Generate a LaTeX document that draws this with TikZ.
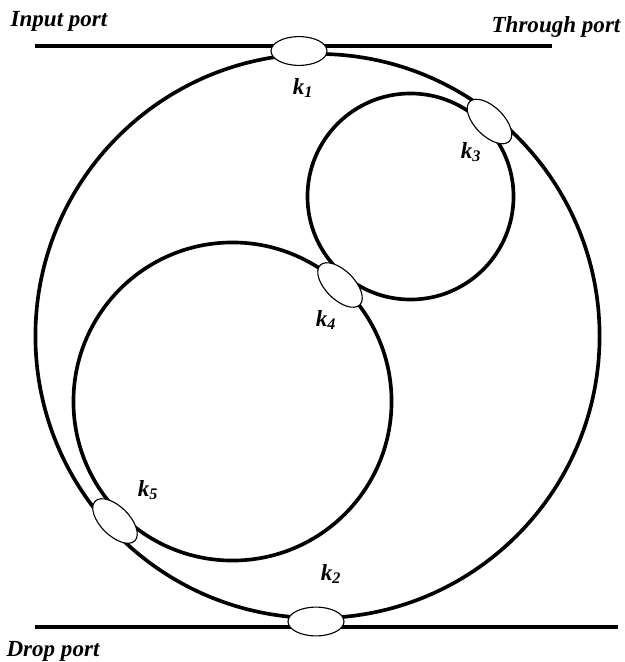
\documentclass[tikz,border=0pt]{standalone}
\usepackage{fontspec}
\setmainfont{Liberation Serif}
\usetikzlibrary{shapes.geometric}
\tikzset{
	ring/.style={draw, circle, line width=2.6pt, inner sep=0pt},
	bus/.style={line width=2.6pt},
	coupler/.style={draw, ellipse, fill=white, line width=0.8pt, minimum width=1.4cm, minimum height=0.72cm, inner sep=0pt},
	portlabel/.style={font=\fontsize{16.4}{18}\selectfont\bfseries\itshape, inner sep=0pt},
	klabel/.style={font=\fontsize{16.4}{18}\selectfont\bfseries\itshape, inner sep=0pt}
}
\begin{document}
\begin{tikzpicture}[x=0.025cm, y=-0.025cm]
		\useasboundingbox (0,0) rectangle (624,662);

		% Rings
		\node[ring, minimum size=14.1cm] (outer) at (317.5,336) {};
		\node[ring, minimum size=5.15cm] (upper) at (410.5,196.5) {};
		\node[ring, minimum size=7.95cm] (lower) at (232.5,401.5) {};

		% Bus ends
		\coordinate (inend) at (35,46);
		\coordinate (thruend) at (552,46);
		\coordinate (dropend) at (35,627);
		\coordinate (addend) at (618,627);
		\draw[bus] (inend) -- (thruend);
		\draw[bus] (dropend) -- (addend);

		% Couplers
		\node[coupler] (c1) at (299,51) {};
		\node[coupler] (c2) at (316,621.5) {};
		\node[coupler, rotate=-45] (c3) at (489.5,121.5) {};
		\node[coupler, rotate=-45] (c4) at (340,285) {};
		\node[coupler, rotate=-45] (c5) at (115,521) {};

		% Labels
		\node[portlabel] (input) at (59,21) {Input port};
		\node[portlabel] (through) at (556,27) {Through port};
		\node[portlabel] (drop) at (53,651) {Drop port};
		\node[klabel] (k1) at (303,88) {k\textsubscript{1}};
		\node[klabel] (k3) at (471,152) {k\textsubscript{3}};
		\node[klabel] (k4) at (326,320) {k\textsubscript{4}};
		\node[klabel] (k5) at (148,490) {k\textsubscript{5}};
		\node[klabel] (k2) at (331,574) {k\textsubscript{2}};
	\end{tikzpicture}
\end{document}
